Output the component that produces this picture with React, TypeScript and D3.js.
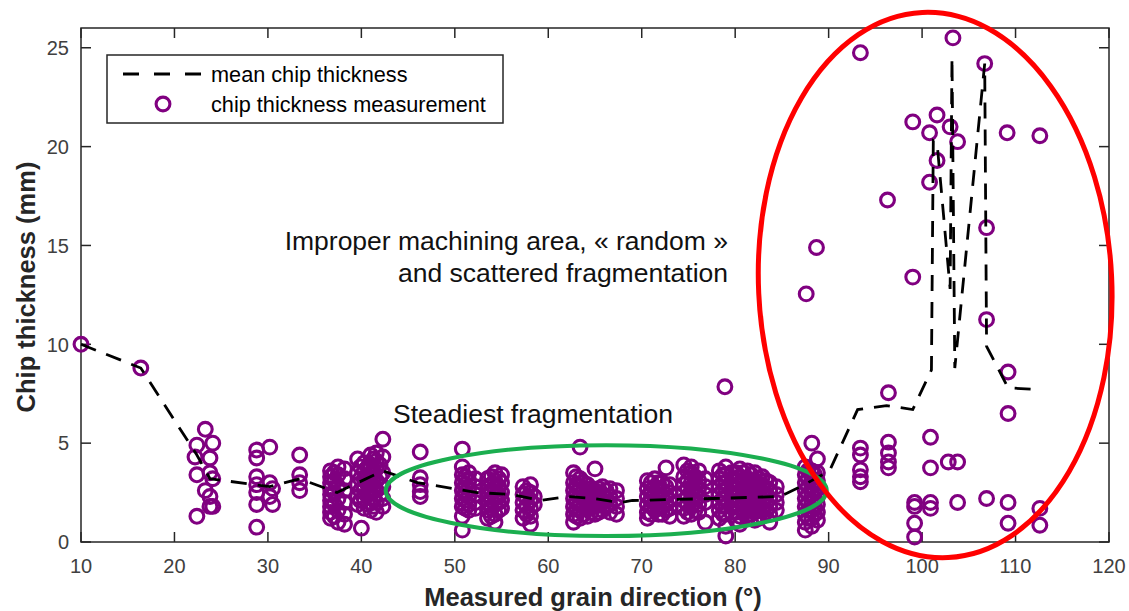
import React from 'react';
import * as d3 from 'd3';

// measured chip thickness, grouped by grain direction column
const colX = [
  10.0, 16.4, 22.2, 22.4, 23.3, 23.8, 24.1, 28.8, 30.2, 30.5, 33.4, 36.7, 37.5, 38.2, 39.6, 40.0,
  40.3, 41.0, 41.6, 42.3, 46.3, 50.8, 51.5, 52.2, 53.5, 54.3, 55.0, 57.3, 58.1, 58.5, 62.7, 63.4,
  64.2, 65.0, 65.8, 66.6, 67.3, 70.6, 71.4, 72.2, 72.6, 73.0, 74.5, 75.3, 76.1, 76.8, 78.3, 78.9,
  79.0, 79.6, 80.5, 81.3, 82.1, 82.9, 83.7, 84.4, 87.5, 87.6, 88.2, 88.7, 88.8, 93.4, 96.3, 96.4,
  99.0, 99.2, 100.8, 100.9, 101.6, 102.8, 103.0, 103.3, 103.8, 106.7, 106.9, 109.1, 109.2, 112.6,
  // in-between columns of the dense clusters
  37.1, 39.9, 40.7, 41.3, 42.0, 51.1, 53.9, 54.7, 57.7, 63.0, 63.8, 64.6, 65.4, 66.2, 71.0, 71.8,
  72.6, 74.9, 75.7, 78.7, 80.1, 80.9, 81.7, 82.5, 83.3, 87.8, 88.5,
];
const colY: number[][] = [
  [10.0], [8.8], [4.3], [4.9, 3.4, 1.3], [5.7, 2.6], [4.25, 3.5, 2.3, 1.8], [5.0, 3.2, 1.8],
  [4.65, 4.25, 3.3, 2.9, 2.5, 1.9, 0.75], [4.8, 3.0, 2.3], [2.7, 1.9], [4.4, 3.4, 3.0, 2.6],
  [3.6, 3.3, 3.0, 2.7, 2.4, 2.1, 1.8, 1.5, 1.2], [3.8, 3.4, 2.8, 2.2, 1.6, 1.0],
  [3.7, 3.2, 2.6, 2.0, 1.4, 0.9], [4.2, 3.5, 2.9, 2.3, 1.9], [0.7],
  [4.0, 3.6, 3.2, 2.7, 2.2, 1.7], [4.4, 3.9, 3.4, 3.0, 2.5, 2.0, 1.6],
  [4.5, 4.1, 3.7, 3.1, 2.6, 2.0, 1.5], [5.2, 4.3, 3.5, 2.8, 2.2, 1.8],
  [4.55, 3.25, 2.9, 2.55, 2.3], [4.7, 3.8, 3.4, 3.0, 2.6, 2.2, 1.8, 1.3, 0.6],
  [3.5, 3.1, 2.7, 2.3, 1.9, 1.6], [3.2, 2.8, 2.4, 2.0, 1.7], [3.2, 2.8, 2.4, 2.0, 1.6, 1.2],
  [3.5, 3.1, 2.7, 2.3, 1.9, 1.4, 1.0], [3.4, 3.0, 2.5, 2.1, 1.7], [2.8, 2.4, 2.0, 1.6, 1.2],
  [2.9, 2.5, 2.1, 1.7, 1.3, 0.9], [2.3, 1.9], [3.5, 3.0, 2.6, 2.2, 1.8, 1.4, 1.0],
  [4.8, 3.2, 2.8, 2.4, 2.0, 1.6, 1.2], [2.9, 2.5, 2.1, 1.7, 1.3], [3.7, 2.6, 2.2, 1.8, 1.4],
  [2.8, 2.4, 2.0, 1.6], [2.7, 2.3, 1.9, 1.5], [2.6, 2.2, 1.8, 1.4],
  [3.1, 2.7, 2.3, 1.9, 1.5, 1.2], [3.2, 2.8, 2.4, 2.0, 1.6], [3.0, 2.6, 2.2, 1.8, 1.4], [3.75],
  [2.9, 2.5, 2.1, 1.7, 1.3], [3.9, 3.3, 2.9, 2.5, 2.1, 1.7, 1.3], [3.8, 3.5, 3.0, 2.6, 2.2, 1.8, 1.4],
  [3.6, 3.1, 2.7, 2.3, 1.9, 1.5], [3.2, 2.8, 2.4, 2.0, 1.0], [3.6, 3.2, 2.8, 2.4, 2.0, 1.6, 1.2],
  [7.85], [3.8, 3.4, 3.0, 2.6, 2.2, 1.8, 1.4, 0.8, 0.3], [3.5, 3.1, 2.7, 2.3, 1.9, 1.5],
  [3.7, 3.3, 2.9, 2.5, 2.1, 1.7, 1.3, 0.9], [3.6, 3.2, 2.8, 2.4, 2.0, 1.6, 1.2],
  [3.5, 3.1, 2.7, 2.3, 1.9, 1.5, 1.1], [3.3, 2.9, 2.5, 2.1, 1.7, 1.3], [3.0, 2.6, 2.2, 1.8, 1.4, 1.0],
  [2.8, 2.4, 2.0, 1.6], [3.8, 3.4, 3.0, 2.6, 2.2, 1.8, 1.4, 1.0, 0.6], [12.55],
  [5.0, 3.6, 3.2, 2.8, 2.4, 2.0, 1.6, 1.2, 0.8], [14.9], [4.2, 3.5, 3.1, 2.7, 2.3, 1.9, 1.5, 1.1],
  [24.75, 4.75, 4.4, 3.65, 3.3, 3.05], [17.3], [7.55, 5.05, 4.5, 4.05, 3.75],
  [21.25, 13.4], [2.0, 1.8, 0.95, 0.25], [20.7, 18.2], [5.3, 3.75, 2.0, 1.7], [21.6, 19.3],
  [4.05], [21.0], [25.5], [20.25, 4.05, 2.0], [24.2], [15.9, 11.25, 2.2], [20.7],
  [8.6, 6.5, 2.0, 0.95], [20.55, 1.7, 0.85],
  [3.5, 3.1, 2.5, 1.9, 1.3], [3.8, 3.2, 2.6, 2.1], [3.8, 3.3, 2.9, 2.4, 1.9],
  [4.2, 3.6, 3.2, 2.7, 2.2, 1.8], [3.9, 3.3, 2.9, 2.4], [3.3, 2.9, 2.5, 2.1, 1.7],
  [3.3, 2.9, 2.5, 2.1, 1.7, 1.3], [3.2, 2.8, 2.4, 2.0, 1.6], [2.6, 2.2, 1.8, 1.4],
  [3.3, 2.9, 2.5, 2.1, 1.7, 1.3], [3.0, 2.6, 2.2, 1.8, 1.4], [2.7, 2.3, 1.9, 1.5],
  [2.7, 2.3, 1.9, 1.5], [2.6, 2.2, 1.8], [3.0, 2.6, 2.2, 1.8, 1.4], [3.0, 2.6, 2.2, 1.8, 1.4],
  [2.8, 2.4, 2.0, 1.6], [3.6, 3.1, 2.7, 2.3, 1.9, 1.5], [3.3, 2.8, 2.4, 2.0, 1.6],
  [3.4, 3.0, 2.6, 2.2, 1.8, 1.4], [3.5, 3.1, 2.7, 2.3, 1.9, 1.5, 1.1], [3.5, 3.1, 2.7, 2.3, 1.9, 1.5],
  [3.4, 3.0, 2.6, 2.2, 1.8, 1.4], [3.2, 2.8, 2.4, 2.0, 1.6, 1.2], [3.1, 2.7, 2.3, 1.9, 1.5],
  [3.6, 3.2, 2.8, 2.4, 2.0, 1.6, 1.2], [3.4, 3.0, 2.6, 2.2, 1.8, 1.4],
];

// mean chip thickness curve
const meanX = [
  10, 16.4, 22.4, 23.8, 30.2, 33.4, 37.4, 42.3, 46.0, 52.4, 56.2, 59.1, 62.0, 64.8, 67.7, 69.0,
  77.6, 84.8, 87.0, 90.1, 93.1, 96.2, 99.0, 101.0, 101.2, 101.6, 103.0, 103.2, 103.5, 106.7, 106.9,
  109.2, 112.6,
];
const meanY = [
  10, 8.8, 4.4, 3.2, 2.8, 3.2, 2.5, 3.6, 3.0, 2.5, 2.4, 2.1, 2.3, 2.2, 2.0, 2.1,
  2.2, 2.3, 2.8, 3.6, 6.7, 6.9, 6.7, 8.7, 20.3, 20.2, 12.8, 24.5, 8.8, 24.2, 9.9,
  7.8, 7.7,
];

const xTicks = [10, 20, 30, 40, 50, 60, 70, 80, 90, 100, 110, 120];
const yTicks = [0, 5, 10, 15, 20, 25];

const W = 1129;
const H = 611;
const FONT = '"Liberation Sans", Arial, sans-serif';
const PURPLE = '#800080';
const AXIS = '#262626';

export default function App() {
  const x = d3.scaleLinear().domain([10, 120]).range([81, 1109]);
  const y = d3.scaleLinear().domain([0, 26]).range([542, 28]);

  const points: [number, number][] = [];
  colX.forEach((cx, i) => colY[i].forEach(v => points.push([cx, v])));

  const line = d3.line<number>().x(i => x(meanX[i])).y(i => y(meanY[i]));
  const meanPath = line(d3.range(meanX.length)) || '';

  const [x0, x1] = x.range();
  const [yb, yt] = y.range();
  const tickLen = 10;

  // annotation ellipses in data units
  const green = { cx: 66.2, cy: 2.6, rx: 23.6, ry: 2.3 };
  const red = { cx: 101.4, cy: 13.0, rx: 18.9, ry: 13.8 };

  return (
    <svg width={W} height={H} style={{ position: 'absolute', left: 0, top: 0, background: '#fff' }}
      fontFamily={FONT}>
      <rect x={0} y={0} width={W} height={H} fill="#fff" />

      {/* axes box */}
      <rect x={x0} y={yt} width={x1 - x0} height={yb - yt} fill="none" stroke={AXIS} strokeWidth={1.5} />
      {xTicks.map(t => (
        <g key={'xt' + t}>
          <line x1={x(t)} x2={x(t)} y1={yb} y2={yb - tickLen} stroke={AXIS} strokeWidth={1.5} />
          <line x1={x(t)} x2={x(t)} y1={yt} y2={yt + tickLen} stroke={AXIS} strokeWidth={1.5} />
          <text x={x(t)} y={573} textAnchor="middle" fontSize={20} fill="#404040">{t}</text>
        </g>
      ))}
      {yTicks.map(t => (
        <g key={'yt' + t}>
          <line x1={x0} x2={x0 + tickLen} y1={y(t)} y2={y(t)} stroke={AXIS} strokeWidth={1.5} />
          <line x1={x1} x2={x1 - tickLen} y1={y(t)} y2={y(t)} stroke={AXIS} strokeWidth={1.5} />
          <text x={69} y={y(t)} dy="0.36em" textAnchor="end" fontSize={20} fill="#404040">{t}</text>
        </g>
      ))}

      {/* measurements */}
      {points.map((p, i) => (
        <circle key={i} cx={x(p[0])} cy={y(p[1])} r={6.9} fill="none" stroke={PURPLE} strokeWidth={3.1} />
      ))}

      {/* mean line */}
      <path d={meanPath} fill="none" stroke="#000" strokeWidth={2.8} strokeDasharray="16,11" />

      {/* highlight ellipses */}
      <ellipse cx={x(green.cx)} cy={y(green.cy)} rx={x(green.cx + green.rx) - x(green.cx)}
        ry={y(0) - y(green.ry)} fill="none" stroke="#1BAE4F" strokeWidth={4} />
      <ellipse cx={x(red.cx)} cy={y(red.cy)} rx={x(red.cx + red.rx) - x(red.cx)}
        ry={y(0) - y(red.ry)} fill="none" stroke="#FF0000" strokeWidth={5}
        transform={`rotate(-2.7 ${x(red.cx)} ${y(red.cy)})`} />

      {/* annotations */}
      <text x={728} y={250} textAnchor="end" fontSize={26.5} fill="#111">Improper machining area, « random »</text>
      <text x={728} y={282} textAnchor="end" fontSize={26.5} fill="#111">and scattered fragmentation</text>
      <text x={393} y={423} fontSize={26.5} fill="#111">Steadiest fragmentation</text>

      {/* legend */}
      <rect x={107} y={55} width={396} height={68} fill="#fff" stroke={AXIS} strokeWidth={1.5} />
      <line x1={123} x2={203} y1={74} y2={74} stroke="#000" strokeWidth={2.8} strokeDasharray="16,15" />
      <text x={211} y={74} dy="0.35em" fontSize={21.7} fill="#000">mean chip thickness</text>
      <circle cx={163} cy={104} r={6.9} fill="none" stroke={PURPLE} strokeWidth={3.1} />
      <text x={211} y={104} dy="0.35em" fontSize={21.7} fill="#000">chip thickness measurement</text>

      {/* axis labels */}
      <text x={593} y={606} textAnchor="middle" fontSize={25.5} fontWeight="bold" fill={AXIS}>
        Measured grain direction (°)
      </text>
      <text transform={`translate(35,${(yb + yt) / 2 + 2}) rotate(-90)`} textAnchor="middle" fontSize={25.5}
        fontWeight="bold" fill={AXIS}>
        Chip thickness (mm)
      </text>
    </svg>
  );
}
